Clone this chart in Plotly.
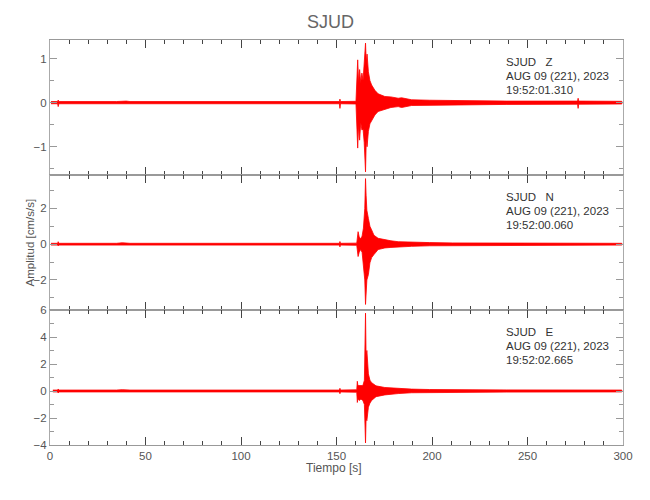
import plotly.graph_objects as go
from plotly.subplots import make_subplots

# ---- data (envelope) ----
z_t = [0.5, 4.0, 4.3, 4.6, 34.8, 36.8, 39.9, 41.9, 97.5, 151.5, 151.8, 152.1, 160.2, 160.6, 161.1, 161.6, 162.1, 162.7,
       163.3, 163.9, 164.5, 165.2, 165.6, 166.0, 166.7, 167.5, 168.4, 170.1, 171.8, 175.3, 178.5, 182.3,
       184.1, 189.3, 198.7, 213.9, 239.2, 276.2, 276.5, 276.8, 299.4]
z_hi = [0.025, 0.025, 0.06, 0.025, 0.025, 0.035, 0.035, 0.025, 0.025, 0.025, 0.08, 0.025, 0.03, 0.5, 0.97, 0.45, 0.75, 0.45,
        0.67, 0.5, 0.95, 1.35, 0.9, 1.1, 0.7, 0.5, 0.4, 0.28, 0.2, 0.14, 0.13, 0.1,
        0.11, 0.065, 0.055, 0.045, 0.035, 0.035, 0.1, 0.035, 0.03]
z_lo = [-0.025, -0.025, -0.09, -0.025, -0.025, -0.035, -0.035, -0.025, -0.025, -0.025, -0.13, -0.025, -0.03, -0.6, -1.03, -0.5, -0.85, -0.45,
        -0.62, -0.6, -0.9, -1.57, -0.8, -1.0, -0.65, -0.48, -0.4, -0.28, -0.2, -0.16, -0.11, -0.09,
        -0.11, -0.065, -0.055, -0.045, -0.04, -0.035, -0.13, -0.035, -0.03]

n_t = [0.5, 4.0, 4.3, 4.6, 34.8, 37.8, 41.9, 151.5, 151.8, 152.1, 160.6, 160.9, 161.3, 161.9, 162.6, 163.4, 164.1,
       164.8, 165.2, 165.5, 165.9, 166.7, 167.5, 168.4, 169.6, 171.8, 175.3, 178.5, 182.3, 189.3, 198.7, 210.9,
       229.1, 299.4]
n_hi = [0.05, 0.05, 0.14, 0.05, 0.05, 0.08, 0.05, 0.05, 0.15, 0.05, 0.06, 0.6, 0.7, 0.4, 0.3, 0.45, 0.9,
        2.0, 3.67, 2.74, 1.9, 1.44, 1.0, 0.8, 0.5, 0.33, 0.24, 0.19, 0.14, 0.11, 0.09, 0.07,
        0.06, 0.05]
n_lo = [-0.05, -0.05, -0.1, -0.05, -0.05, -0.08, -0.05, -0.05, -0.15, -0.05, -0.06, -0.3, -0.69, -0.45, -0.3, -0.45, -1.0,
        -2.0, -3.37, -2.8, -2.0, -1.7, -1.04, -0.75, -0.58, -0.3, -0.21, -0.18, -0.14, -0.12, -0.09, -0.07,
        -0.06, -0.05]

e_t = [1.5, 4.0, 4.3, 4.6, 34.8, 37.8, 41.9, 151.5, 151.8, 152.1, 160.6, 160.9, 161.2, 161.9, 162.8, 163.8, 164.6,
       165.2, 165.5, 165.9, 166.7, 167.5, 168.4, 170.7, 175.3, 182.3, 189.3, 198.7, 213.9, 239.2, 299.4]
e_hi = [0.07, 0.07, 0.15, 0.07, 0.07, 0.1, 0.07, 0.07, 0.2, 0.07, 0.09, 0.72, 0.4, 0.4, 0.35, 0.4, 0.8,
        5.77, 2.5, 3.0, 1.27, 0.8, 0.62, 0.38, 0.26, 0.19, 0.14, 0.11, 0.09, 0.08, 0.07]
e_lo = [-0.07, -0.07, -0.15, -0.07, -0.07, -0.1, -0.07, -0.07, -0.2, -0.07, -0.09, -0.85, -0.6, -0.7, -0.6, -0.7, -1.0,
        -3.85, -2.0, -2.2, -1.2, -0.9, -0.7, -0.42, -0.29, -0.19, -0.13, -0.11, -0.09, -0.08, -0.07]

components = ["Z", "N", "E"]
start_times = ["19:52:01.310", "19:52:00.060", "19:52:02.665"]
date_label = "AUG 09 (221), 2023"
station = "SJUD"
y_ranges = [[-1.64, 1.42], [-3.68, 3.87], [-4, 6]]
y_major = [1, 2, 2]
y_minor = [0.5, 1, 1]

FONT = "Liberation Sans, Arial, sans-serif"

fig = make_subplots(rows=3, cols=1, shared_xaxes=True, vertical_spacing=0)

series = [(z_t, z_hi, z_lo), (n_t, n_hi, n_lo), (e_t, e_hi, e_lo)]
for i, (t, hi, lo) in enumerate(series):
    fig.add_trace(go.Scatter(x=t + t[::-1], y=hi + lo[::-1], mode="lines", fill="toself",
                             fillcolor="#ff0000", line=dict(color="#ff0000", width=0.8),
                             hoverinfo="skip", showlegend=False), row=i + 1, col=1)

for i in range(3):
    r = i + 1
    fig.update_yaxes(range=y_ranges[i], dtick=y_major[i], tick0=0, ticks="inside", ticklen=7,
                     tickcolor="#999", showline=True, linecolor="#aaa", linewidth=1, mirror="allticks",
                     showgrid=False, zeroline=False, automargin=False,
                     minor=dict(dtick=y_minor[i], tick0=0, ticks="inside", ticklen=4, tickcolor="#999"),
                     tickfont=dict(family=FONT, size=11.5, color="#555"), row=r, col=1)
    fig.update_xaxes(range=[0, 300], dtick=50, tick0=0, ticks="inside", ticklen=8, tickcolor="#444",
                     showline=True, linecolor="#999", linewidth=1, mirror="allticks",
                     showgrid=False, zeroline=False, automargin=False,
                     minor=dict(dtick=10, tick0=0, ticks="inside", ticklen=4, tickcolor="#444"),
                     tickfont=dict(family=FONT, size=11.5, color="#555"), row=r, col=1)
    yref = "y domain" if r == 1 else f"y{r} domain"
    lines = [f"{station}\u00a0\u00a0\u00a0{components[i]}", date_label, start_times[i]]
    for k, txt in enumerate(lines):
        fig.add_annotation(text=txt, xref="x domain", yref=yref, x=0.792, y=0.84 - k * 0.106,
                           xanchor="left", yanchor="middle", showarrow=False,
                           font=dict(family=FONT, size=11.5, color="#333"))

fig.add_annotation(text=station, xref="paper", yref="paper", x=0.49, y=1.044, xanchor="center",
                   yanchor="middle", showarrow=False, font=dict(family=FONT, size=18, color="#666"))
fig.add_annotation(text="Amplitud [cm/s/s]", xref="paper", yref="y2 domain", x=-0.035, y=0.5,
                   textangle=-90, xanchor="center", yanchor="middle", showarrow=False,
                   font=dict(family=FONT, size=11.5, color="#555"))
fig.add_annotation(text="Tiempo [s]", xref="paper", yref="paper", x=0.495, y=-0.057, xanchor="center",
                   yanchor="middle", showarrow=False, font=dict(family=FONT, size=12, color="#555"))

fig.update_layout(width=650, height=500, margin=dict(l=42, r=35, t=32, b=63),
                  paper_bgcolor="white", plot_bgcolor="white")

fig.write_html("out.html")
